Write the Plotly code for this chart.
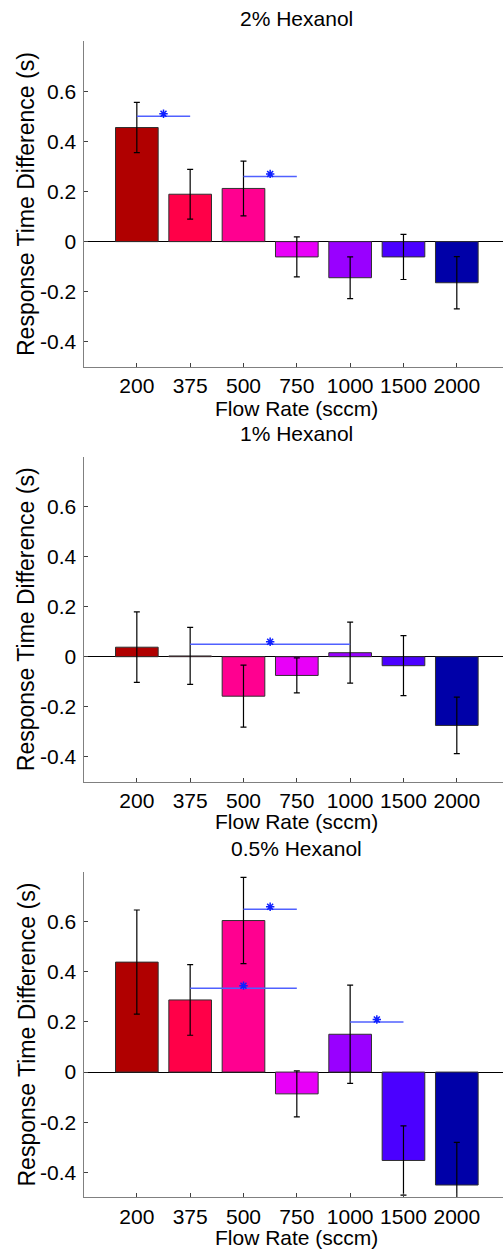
import plotly.graph_objects as go

# ---- data ----
flow_rates = ["200", "375", "500", "750", "1000", "1500", "2000"]
bar_colors = ["#B00000", "#FF0048", "#FF0090", "#E800F8", "#9900FF", "#4B00FF", "#0000A8"]

titles = ["2% Hexanol", "1% Hexanol", "0.5% Hexanol"]

hex2_mean = [0.455, 0.189, 0.212, -0.061, -0.144, -0.061, -0.164]
hex2_err = [0.100, 0.099, 0.109, 0.080, 0.083, 0.090, 0.104]

hex1_mean = [0.038, 0.003, -0.158, -0.075, 0.016, -0.036, -0.275]
hex1_err = [0.141, 0.114, 0.124, 0.070, 0.122, 0.120, 0.113]

hex05_mean = [0.439, 0.288, 0.605, -0.087, 0.151, -0.353, -0.451]
hex05_err = [0.208, 0.141, 0.172, 0.092, 0.196, 0.138, 0.170]

# significance brackets: (from category index, to category index, height)
sig2 = [(0, 1, 0.50), (2, 3, 0.26)]
sig1 = [(1, 4, 0.05)]
sig05 = [(2, 3, 0.65), (1, 3, 0.335), (4, 5, 0.20)]

y_ticks = [-0.4, -0.2, 0, 0.2, 0.4, 0.6]
y_tick_text = ["-0.4", "-0.2", "0", "0.2", "0.4", "0.6"]

panels = [(hex2_mean, hex2_err, sig2), (hex1_mean, hex1_err, sig1), (hex05_mean, hex05_err, sig05)]

# ---- layout geometry (pixels) ----
W, H = 503, 1252
plot_tops = [41, 456.7, 871.7]
plot_bottoms = [367, 781.7, 1197.3]
title_y = [18, 433, 848]
xlabel_y = [408, 821, 1237]
x_left = 83.5
cat_step = 53.33
FONT = "Liberation Sans, Arial, sans-serif"
FS = 21

positions = list(range(1, len(flow_rates) + 1))

fig = go.Figure()
layout = dict(
    width=W, height=H, margin=dict(l=0, r=0, t=0, b=0),
    paper_bgcolor="white", plot_bgcolor="white", showlegend=False,
    font=dict(family=FONT, size=FS, color="black"),
    annotations=[],
)

for i, (mean, err, sig) in enumerate(panels):
    n = "" if i == 0 else str(i + 1)
    xa, ya = "x" + n, "y" + n
    fig.add_trace(go.Bar(
        x=positions, y=mean, width=0.8,
        marker=dict(color=bar_colors, line=dict(color="#303030", width=1)),
        error_y=dict(type="data", array=err, visible=True, color="black", thickness=1.2, width=3),
        xaxis=xa, yaxis=ya, hoverinfo="skip",
    ))
    for (a, b, h) in sig:
        fig.add_trace(go.Scatter(
            x=[positions[a], positions[b]], y=[h, h], mode="lines",
            line=dict(color="#5060FF", width=1.5), xaxis=xa, yaxis=ya, hoverinfo="skip",
        ))
        fig.add_trace(go.Scatter(
            x=[(positions[a] + positions[b]) / 2], y=[h + 0.01], mode="markers",
            marker=dict(symbol="asterisk-open", size=7, color="#1020FF",
                        line=dict(color="#1020FF", width=1.5)),
            xaxis=xa, yaxis=ya, hoverinfo="skip",
        ))
    dom_y = [1 - plot_bottoms[i] / H, 1 - plot_tops[i] / H]
    layout["xaxis" + n] = dict(
        domain=[x_left / W, 1.0], range=[0, (W - x_left) / cat_step], anchor=ya,
        tickvals=positions, ticktext=flow_rates, ticks="inside", ticklen=4,
        tickcolor="#404040", showline=True, linecolor="#808080", linewidth=1,
        showgrid=False, zeroline=False, tickfont=dict(size=FS, color="black"),
    )
    layout["yaxis" + n] = dict(
        domain=dom_y, range=[-0.5, 0.8], anchor=xa,
        tickvals=y_ticks, ticktext=y_tick_text, ticks="inside", ticklen=4,
        tickcolor="#404040", showline=True, linecolor="#808080", linewidth=1,
        showgrid=False, zeroline=True, zerolinecolor="black", zerolinewidth=1.2,
        tickfont=dict(size=FS, color="black"), ticklabelstandoff=2,
    )
    cx = (x_left + (x_left + 8 * cat_step)) / 2 / W
    layout["annotations"] += [
        dict(text=titles[i], x=cx, y=1 - title_y[i] / H, xref="paper", yref="paper",
             xanchor="center", yanchor="middle", showarrow=False, font=dict(size=FS)),
        dict(text="Flow Rate (sccm)", x=cx, y=1 - xlabel_y[i] / H, xref="paper", yref="paper",
             xanchor="center", yanchor="middle", showarrow=False, font=dict(size=FS)),
        dict(text="Response Time Difference (s)", x=26 / W,
             y=1 - (plot_tops[i] + plot_bottoms[i]) / 2 / H, xref="paper", yref="paper",
             xanchor="center", yanchor="middle", textangle=-90, showarrow=False, font=dict(size=23)),
    ]

fig.update_layout(**layout)
fig.write_html("out.html")
